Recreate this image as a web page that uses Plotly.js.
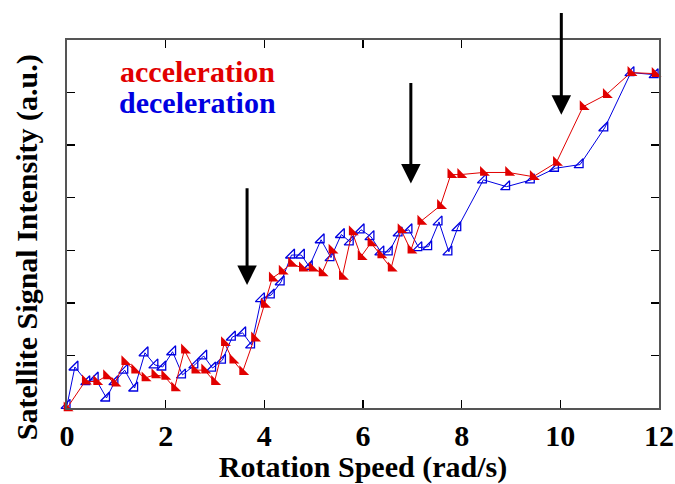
<!DOCTYPE html>
<html>
<head>
<meta charset="utf-8">
<script src="https://cdn.plot.ly/plotly-3.0.1.min.js"></script>
<style>html,body{margin:0;padding:0;background:#fff;}#chart{width:675px;height:484px;}</style>
</head>
<body>
<div id="chart"></div>
<script>
// acceleration (red)
var accX = [0, 0.37, 0.6, 0.8, 0.97, 1.17, 1.37, 1.58, 1.78, 1.98, 2.18, 2.38, 2.59, 2.79, 2.99, 3.19, 3.36, 3.56, 3.8, 4.0, 4.16, 4.36, 4.55, 4.77, 4.97, 5.17, 5.37, 5.58, 5.78, 5.96, 6.16, 6.36, 6.57, 6.77, 6.97, 7.17, 7.57, 7.78, 7.98, 8.44, 8.95, 9.45, 9.92, 10.46, 10.93, 11.43, 11.92];
var accY = [0, 0.51, 0.5, 0.61, 0.47, 0.88, 0.72, 0.57, 0.63, 0.6, 0.38, 1.1, 0.72, 0.72, 0.5, 1.24, 0.91, 0.69, 1.33, 1.97, 2.47, 2.6, 2.75, 2.66, 2.66, 2.57, 3.0, 2.5, 3.35, 2.88, 3.14, 2.91, 2.66, 3.39, 3.0, 3.55, 3.85, 4.44, 4.44, 4.48, 4.48, 4.4, 4.67, 5.73, 5.96, 6.38, 6.36];
// deceleration (blue)
var decX = [0, 0.16, 0.4, 0.57, 0.8, 0.97, 1.17, 1.37, 1.58, 1.78, 1.94, 2.14, 2.34, 2.59, 2.77, 2.95, 3.15, 3.35, 3.56, 3.74, 3.94, 4.14, 4.34, 4.55, 4.75, 4.91, 5.15, 5.35, 5.56, 5.74, 5.96, 6.16, 6.36, 6.53, 6.73, 6.93, 7.13, 7.33, 7.54, 7.74, 7.92, 8.44, 8.91, 9.41, 9.9, 10.4, 10.9, 11.43, 11.92];
var decY = [0.05, 0.78, 0.5, 0.57, 0.19, 0.5, 0.72, 0.38, 1.05, 0.82, 0.78, 1.07, 0.63, 0.82, 0.99, 0.76, 0.91, 1.35, 1.43, 1.2, 2.08, 2.15, 2.4, 2.91, 2.91, 2.69, 3.2, 2.86, 3.3, 3.16, 3.39, 3.26, 2.97, 2.97, 3.33, 3.39, 3.05, 3.07, 3.54, 2.97, 3.43, 4.34, 4.21, 4.34, 4.56, 4.63, 5.33, 6.38, 6.34];
// arrows: x position, tip y, tail y
var arrowX = [3.65, 6.97, 10.02];
var arrowTipY = [2.34, 4.27, 5.58];
var arrowTailY = [4.21, 6.21, 7.54];
var xTicks = [0, 2, 4, 6, 8, 10, 12];
var legendLabels = ["acceleration", "deceleration"];

var RED = "rgb(225,0,0)";
var BLUE = "rgb(0,0,225)";
var FONT = "Liberation Serif, Times New Roman, serif";

var traces = [
  {x: decX, y: decY, type: "scatter", mode: "lines+markers", cliponaxis: false,
   line: {color: BLUE, width: 1},
   marker: {symbol: "triangle-se-open", size: 10, color: BLUE, line: {color: BLUE, width: 1.3}}},
  {x: accX, y: accY, type: "scatter", mode: "lines+markers", cliponaxis: false,
   line: {color: RED, width: 1},
   marker: {symbol: "triangle-sw", size: 11, color: RED, line: {width: 0}}}
];

var annotations = [];
for (var i = 0; i < arrowX.length; i++) {
  annotations.push({x: arrowX[i], y: arrowTipY[i], ax: arrowX[i], ay: arrowTailY[i],
    xref: "x", yref: "y", axref: "x", ayref: "y", text: "", showarrow: true,
    arrowhead: 2, arrowsize: 1.3, arrowwidth: 3, arrowcolor: "#000"});
}
annotations.push({x: 0.22, y: 0.914, xref: "paper", yref: "paper", xanchor: "center", yanchor: "middle",
  text: "<b>" + legendLabels[0] + "</b>", showarrow: false, font: {family: FONT, size: 30, color: RED}});
annotations.push({x: 0.22, y: 0.83, xref: "paper", yref: "paper", xanchor: "center", yanchor: "middle",
  text: "<b>" + legendLabels[1] + "</b>", showarrow: false, font: {family: FONT, size: 30, color: BLUE}});
annotations.push({x: 0, y: 0.437, xref: "paper", yref: "paper", xanchor: "center", yanchor: "middle",
  xshift: -40, textangle: -90,
  text: "<b>Satellite Signal Intensity (a.u.)</b>", showarrow: false,
  font: {family: FONT, size: 30, color: "#000"}});

var layout = {
  width: 675, height: 484,
  margin: {l: 67, r: 16, t: 40, b: 76},
  paper_bgcolor: "#fff", plot_bgcolor: "#fff",
  showlegend: false,
  font: {family: FONT, color: "#000"},
  xaxis: {range: [0, 12], tickvals: xTicks, ticktext: xTicks.map(function(v){return "<b>" + v + "</b>";}),
    ticks: "inside", ticklen: 8, tickwidth: 1.5, tickcolor: "#000",
    showline: true, linecolor: "#555", linewidth: 2, mirror: "ticks",
    showgrid: false, zeroline: false,
    tickfont: {family: FONT, size: 30, color: "#000"},
    title: {text: "<b>Rotation Speed (rad/s)</b>", font: {family: FONT, size: 30, color: "#000"}, standoff: 4}},
  yaxis: {range: [0, 7], dtick: 1, tick0: 0, showticklabels: false,
    ticks: "inside", ticklen: 8, tickwidth: 1.5, tickcolor: "#000",
    showline: true, linecolor: "#555", linewidth: 2, mirror: "ticks",
    showgrid: false, zeroline: false},
  annotations: annotations
};

Plotly.newPlot("chart", traces, layout, {displayModeBar: false, staticPlot: true});
</script>
</body>
</html>
